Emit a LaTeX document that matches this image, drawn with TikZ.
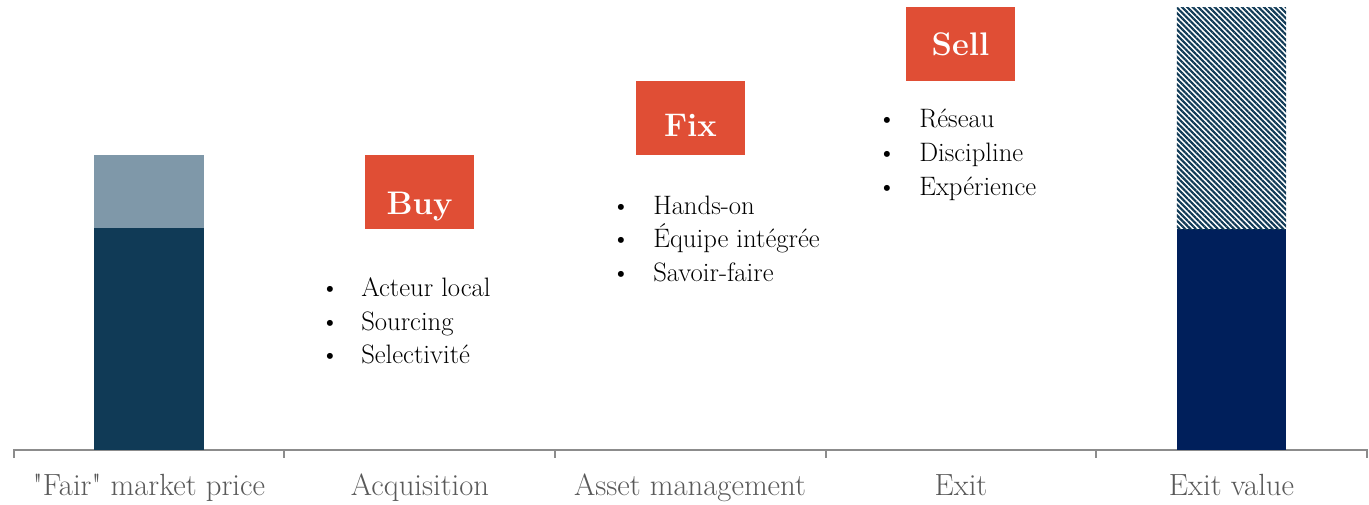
\documentclass[tikz,border=0pt]{standalone}
\usepackage{fontspec}
\setmainfont{Latin Modern Roman}[Ligatures=TeXOff]
\usetikzlibrary{patterns.meta}
\definecolor{barlight}{HTML}{7F98A9}
\definecolor{bardark}{HTML}{103A56}
\definecolor{exitnavy}{HTML}{001F5B}
\definecolor{stepred}{HTML}{E04E35}
\definecolor{axisgray}{HTML}{8C8C8C}
\definecolor{labelgray}{HTML}{595959}
\begin{document}
\begin{tikzpicture}[x=0.75pt,y=-0.75pt,
  blockbox/.style={inner sep=0pt,outer sep=0pt,draw=none},
  stepbox/.style={blockbox,fill=stepred,minimum width=81.75pt,minimum height=55.5pt,anchor=north west},
  steptext/.style={anchor=base,inner sep=0pt,text=white,font=\fontsize{24.5pt}{28pt}\bfseries\selectfont},
  bul/.style={anchor=base,inner sep=0pt,font=\fontsize{20pt}{24pt}\selectfont},
  item/.style={anchor=base west,inner sep=0pt,font=\fontsize{20pt}{24pt}\selectfont},
  cat/.style={anchor=base,inner sep=0pt,text=labelgray,font=\fontsize{23pt}{27pt}\selectfont},
  tick/.style={draw=axisgray,line width=1.5pt}
]
\useasboundingbox (0,0) rectangle (1369,504);

% axis with category ticks
\coordinate (a0) at (13.5,450);
\coordinate (a5) at (1366.5,450);
\draw[tick] (13.5,458) -- (a0) -- (a5) -- (1366.5,458);
\foreach \tx in {284,555,825.5,1096} {
  \draw[tick] (\tx,450) -- (\tx,458);
}

% "fair" market price bar
\node[blockbox,fill=bardark,minimum width=82.5pt,minimum height=166.5pt,anchor=south] (fairlow) at (149,450) {};
\node[blockbox,fill=barlight,minimum width=82.5pt,minimum height=54.75pt,anchor=south] (fairtop) at (fairlow.north) {};

% exit value bar
\node[blockbox,fill=exitnavy,minimum width=82pt,minimum height=165.75pt,anchor=south] (exitlow) at (1231.5,450) {};
\node[blockbox,pattern={Lines[angle=-45,distance=2.9pt,line width=1.6pt]},pattern color=bardark,
  minimum width=82pt,minimum height=166.5pt,anchor=south] (exittop) at (exitlow.north) {};

% step boxes and their titles
\node[stepbox] (buy) at (365,155) {};
\node[stepbox] (fix) at (636,81) {};
\node[stepbox] (sell) at (906,7) {};
\node[steptext] (buylbl) at (buy.center |- 0,214) {Buy};
\node[steptext] (fixlbl) at (fix.center |- 0,136) {Fix};
\node[steptext] (selllbl) at (sell.center |- 0,55) {Sell};

% bullet lists
\foreach \txt/\yy [count=\i] in {Acteur local/296.5,Sourcing/330,Selectivité/363.5} {
  \node[bul] (buyb\i) at (330,\yy) {\textbullet};
  \node[item] (buyt\i) at (361,\yy) {\txt};
}
\foreach \txt/\yy [count=\i] in {Hands-on/214,Équipe intégrée/247.5,Savoir-faire/281} {
  \node[bul] (fixb\i) at (621,\yy) {\textbullet};
  \node[item] (fixt\i) at (653,\yy) {\txt};
}
\foreach \txt/\yy [count=\i] in {Réseau/127,Discipline/161,Expérience/195} {
  \node[bul] (sellb\i) at (887,\yy) {\textbullet};
  \node[item] (sellt\i) at (919,\yy) {\txt};
}

% category labels
\node[cat] (c1) at (149,495) {"Fair" market price};
\node[cat] (c2) at (420,495) {Acquisition};
\node[cat] (c3) at (690,495) {Asset management};
\node[cat] (c4) at (961,495) {Exit};
\node[cat] (c5) at (1231.5,495) {Exit value};
\end{tikzpicture}
\end{document}
